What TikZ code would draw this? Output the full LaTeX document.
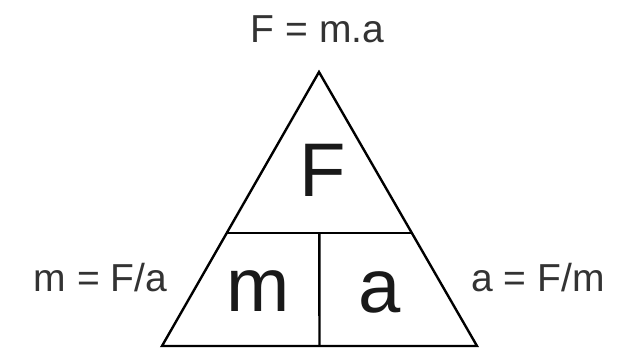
\documentclass[tikz,border=0pt]{standalone}
\usepackage{fontspec}
\setmainfont{Liberation Sans}
\usetikzlibrary{calc}
\begin{document}
\begin{tikzpicture}[x=1pt,y=1pt,
  edge/.style={line width=2.4pt, black},
  big/.style={font=\fontsize{76}{76}\selectfont, inner sep=0pt, anchor=base, text=black!90},
  lbl/.style={font=\fontsize{39}{39}\selectfont, inner sep=0pt, anchor=base, text=black!80}]
\useasboundingbox (0,0) rectangle (626,350);
\fill[white] (0,0) rectangle (626,350);
\coordinate (apex) at (319,278);
\coordinate (bl) at (162,4);
\coordinate (br) at (477,4);
\coordinate (ml) at ($(apex)!0.5876!(bl)$);
\coordinate (mr) at ($(apex)!0.5876!(br)$);
\coordinate (mt) at ($(ml)!0.5!(mr)$);
\coordinate (mb) at ($(bl)!0.5!(br)$);
\draw[edge, line join=miter] (apex) -- (bl) -- (br) -- cycle;
\draw[edge] (ml) -- (mr);
\draw[edge] (mt) -- (mb);
\node[big] (tF) at (323,153) {F};
\node[big] (tm) at (258.5,38) {m};
\node[big] (ta) at (380,37) {a};
\node[lbl] (top) at (317.5,307) {F = m.a};
\node[lbl] (left) at (100.5,58) {m = F/a};
\node[lbl] (right) at (538,58) {a = F/m};
\end{tikzpicture}
\end{document}
